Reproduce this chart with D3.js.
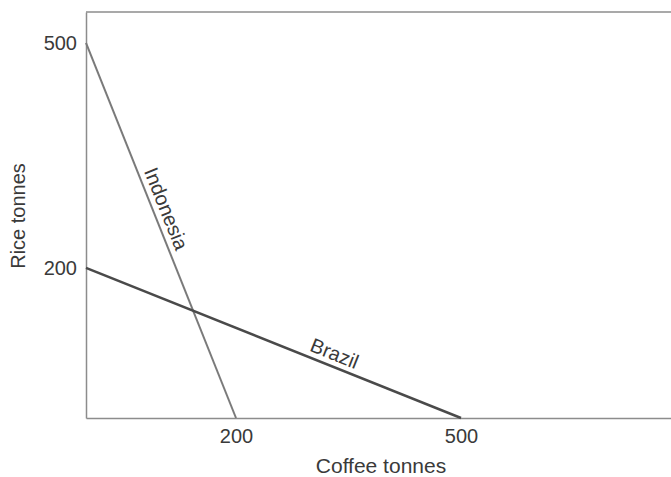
<!DOCTYPE html>
<html>
<head>
<meta charset="utf-8">
<script src="https://cdn.jsdelivr.net/npm/d3@7"></script>
<style>
  body { margin: 0; background: #fff; }
  text { font-family: "Liberation Sans", Arial, sans-serif; fill: #3a3a3a; }
</style>
</head>
<body>
<div id="chart"></div>
<script>
// production possibility lines: each country can make riceMax of rice or coffeeMax of coffee
var countries = ["Indonesia", "Brazil"];
var coffeeMax = [200, 500];
var riceMax = [500, 200];
var xTicks = [200, 500];
var yTicks = [200, 500];
// where along each line its name sits (coffee tonnes)
var labelAt = [91, 325];

var width = 671, height = 477;
var margin = { top: 12, right: 0, bottom: 59, left: 86 };

var svg = d3.select("#chart")
  .append("svg")
  .attr("width", width)
  .attr("height", height);

var x = d3.scaleLinear()
  .domain([0, 780])
  .range([margin.left, width - margin.right]);
var y = d3.scaleLinear()
  .domain([0, 541])
  .range([height - margin.bottom, margin.top]);

// frame: top edge
svg.append("line")
  .attr("x1", x(0)).attr("x2", width)
  .attr("y1", y(541)).attr("y2", y(541))
  .attr("stroke", "#8c8c8c")
  .attr("stroke-width", 1.5);

var xAxis = svg.append("g")
  .attr("transform", "translate(0," + y(0) + ")")
  .call(d3.axisBottom(x).tickValues(xTicks).tickSize(0).tickPadding(11));
var yAxis = svg.append("g")
  .attr("transform", "translate(" + x(0) + ",0)")
  .call(d3.axisLeft(y).tickValues(yTicks).tickSize(0).tickPadding(9));

[xAxis, yAxis].forEach(function(a) {
  a.select(".domain").attr("stroke", "#8c8c8c").attr("stroke-width", 1.5);
  a.selectAll("text")
    .style("font-size", "20px")
    .attr("fill", "#3a3a3a")
    .style("font-family", "'Liberation Sans', Arial, sans-serif");
});

// the lines
var colors = ["#7a7a7a", "#4a4a4a"];
var widths = [2, 2.5];
countries.forEach(function(c, i) {
  svg.append("line")
    .attr("x1", x(0)).attr("y1", y(riceMax[i]))
    .attr("x2", x(coffeeMax[i])).attr("y2", y(0))
    .attr("stroke", colors[i])
    .attr("stroke-width", widths[i]);

  var ang = Math.atan2(y(0) - y(riceMax[i]), x(coffeeMax[i]) - x(0)) * 180 / Math.PI;
  var lx = labelAt[i];
  var ly = riceMax[i] - riceMax[i] / coffeeMax[i] * lx;
  svg.append("text")
    .attr("transform", "translate(" + x(lx) + "," + y(ly) + ") rotate(" + ang + ")")
    .attr("text-anchor", "middle")
    .attr("dy", -6)
    .style("font-size", "20px")
    .text(c);
});

// axis titles
svg.append("text")
  .attr("x", 381)
  .attr("y", 473)
  .attr("text-anchor", "middle")
  .style("font-size", "21px")
  .text("Coffee tonnes");

svg.append("text")
  .attr("transform", "translate(25,216) rotate(-90)")
  .attr("text-anchor", "middle")
  .style("font-size", "20px")
  .text("Rice tonnes");
</script>
</body>
</html>
